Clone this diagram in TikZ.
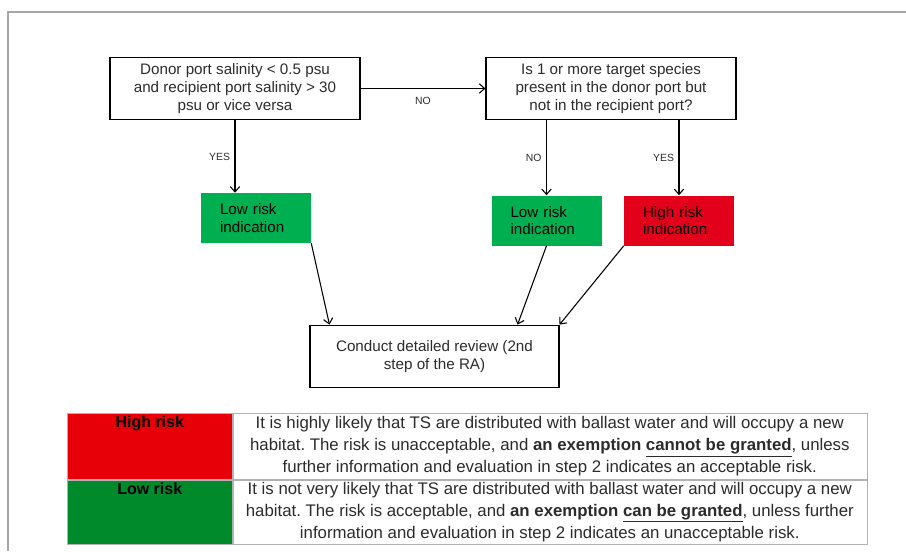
\documentclass[tikz,border=0pt]{standalone}
\usepackage{fontspec}
\setmainfont{Liberation Sans}
\usepackage{xcolor}
\usetikzlibrary{arrows.meta,positioning}
\frenchspacing
\definecolor{lowgreen}{HTML}{00B050}
\definecolor{highred}{HTML}{E3001B}
\definecolor{tabred}{HTML}{E80008}
\definecolor{tabgreen}{HTML}{008A2C}
\definecolor{txtgray}{HTML}{2B2B2B}
\tikzset{
  qbox/.style={draw,thick,minimum width=187.5pt,minimum height=47pt,align=center,text=txtgray,font=\fontsize{11.4}{13.2}\selectfont},
  riskbox/.style={minimum width=82.5pt,minimum height=37.5pt,text width=54pt,align=left,font=\fontsize{11.4}{13.2}\selectfont},
  ans/.style={font=\fontsize{7.8}{9}\selectfont,text=txtgray},
  cellL/.style={draw=gray!60,anchor=north west,minimum width=123.75pt,inner sep=0pt},
  cellR/.style={draw=gray!60,anchor=north west,minimum width=475.5pt,align=center,inner sep=0pt,text=txtgray,font=\fontsize{12.6}{16.5}\selectfont}
}
\begin{document}
\begin{tikzpicture}[x=0.75pt,y=-0.75pt,>={Straight Barb[length=4pt,width=7pt]}]
  \useasboundingbox (0,0) rectangle (906,551);
  \draw[gray!70,line width=1pt] (8,551) -- (8,12) -- (906,12);

  % flow chart
  \node[qbox] (donor) at (235,88.5) {Donor port salinity < 0.5 psu\\and recipient port salinity > 30\\psu or vice versa};
  \node[qbox] (target) at (611,88.5) {Is 1 or more target species\\present in the donor port but\\not in the recipient port?};
  \node[riskbox,fill=lowgreen] (low1) at (256,218) {Low risk\\indication};
  \node[riskbox,fill=lowgreen] (low2) at (546.5,220.5) {Low risk\\indication};
  \node[riskbox,fill=highred] (high) at (679,220.5) {High risk\\indication};
  \node[qbox,minimum width=186.75pt] (review) at (434.5,356.5) {Conduct detailed review (2nd\\step of the RA)};

  \draw[thick,->] (donor.east) -- node[ans,below=3pt] {NO} (target.west);
  \draw[thick,->] (donor.south) -- node[ans,left] {YES} (donor.south |- low1.north);
  \draw[thick,->] (low2.north |- target.south) -- node[ans,left] {NO} (low2.north);
  \draw[thick,->] (high.north |- target.south) -- node[ans,left] {YES} (high.north);
  \draw[thick,->] (low1.south east) -- ([xshift=15pt]review.north west);
  \draw[thick,->] (low2.south) -- ([xshift=-31.5pt]review.north east);
  \draw[thick,->] (high.south west) -- (review.north east);

  % legend table
  \node[cellL,fill=tabred,minimum height=49.5pt,label={[anchor=north,inner sep=2pt,font=\fontsize{12}{13}\selectfont\bfseries]north:High risk}] (hiCell) at (67,413) {};
  \node[cellL,fill=tabgreen,minimum height=48pt,label={[anchor=north,inner sep=2pt,font=\fontsize{12}{13}\selectfont\bfseries]north:Low risk}] (loCell) at (hiCell.south west) {};
  \node[cellR,minimum height=49.5pt] (hiText) at (hiCell.north east) {It is highly likely that TS are distributed with ballast water and will occupy a new\\habitat. The risk is unacceptable, and \textbf{an exemption \underline{cannot be granted}}, unless\\further information and evaluation in step 2 indicates an acceptable risk.};
  \node[cellR,minimum height=48pt] (loText) at (loCell.north east) {It is not very likely that TS are distributed with ballast water and will occupy a new\\habitat. The risk is acceptable, and \textbf{an exemption \underline{can be granted}}, unless further\\information and evaluation in step 2 indicates an unacceptable risk.};
\end{tikzpicture}
\end{document}
